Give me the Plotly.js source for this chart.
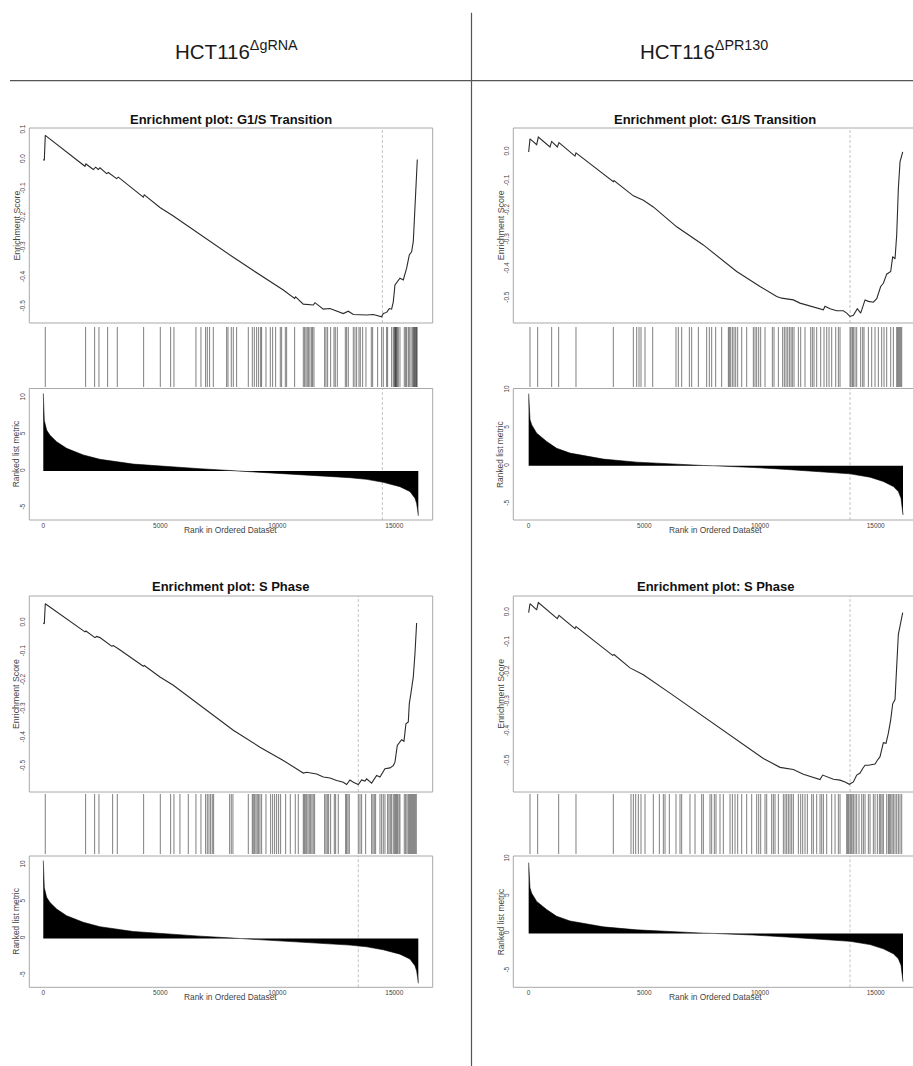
<!DOCTYPE html>
<html>
<head>
<meta charset="utf-8">
<script src="https://cdn.plot.ly/plotly-3.0.1.min.js"></script>
<style>html,body{margin:0;padding:0;background:#fff;}#chart{width:913px;height:1066px;}</style>
</head>
<body>
<div id="chart"></div>
<script>
// ---------------- DATA ----------------
const columnHeaders = ['HCT116<sup>ΔgRNA</sup>', 'HCT116<sup>ΔPR130</sup>'];
const plotTitles = ['Enrichment plot: G1/S Transition', 'Enrichment plot: G1/S Transition',
                    'Enrichment plot: S Phase', 'Enrichment plot: S Phase'];
const esAxisTitle = 'Enrichment Score';
const metricAxisTitle = 'Ranked list metric';
const rankAxisTitle = 'Rank in Ordered Dataset';

const rankTickVals = [0, 5000, 10000, 15000];
const rankTickText = ['0', '5000', '10000', '15000'];
const metricTickVals = [10, 5, 0, -5];
const metricTickText = ['10', '5', '0', '-5'];
const esTickVals = [0.1, 0, -0.1, -0.2, -0.3, -0.4, -0.5];
const esTickText = ['0.1', '0.0', '-0.1', '-0.2', '-0.3', '-0.4', '-0.5'];

// running enrichment score (rank, ES)
const esRank_G1S_gRNA = [0, 43, 85, 1780, 1823, 2137, 2237, 2350, 2422, 2707, 2778, 3134, 3205, 4274, 4316, 4986, 5556, 6695, 8120, 8975, 10256, 10741, 10783, 11111, 11538, 11610, 11966, 12251, 12821, 13034, 13248, 13817, 14102, 14459, 14530, 14672, 14786, 14886, 14957, 15028, 15171, 15242, 15385, 15527, 15641, 15740, 15812, 15883, 15926, 15983];
const esScore_G1S_gRNA = [0, -0.003, 0.082, -0.023, -0.015, -0.034, -0.026, -0.034, -0.028, -0.048, -0.044, -0.065, -0.060, -0.128, -0.120, -0.163, -0.192, -0.255, -0.332, -0.377, -0.443, -0.472, -0.466, -0.491, -0.494, -0.486, -0.508, -0.506, -0.523, -0.515, -0.526, -0.528, -0.526, -0.534, -0.523, -0.519, -0.506, -0.508, -0.483, -0.426, -0.413, -0.403, -0.409, -0.369, -0.324, -0.313, -0.278, -0.176, -0.097, 0.0];

const esRank_G1S_PR130 = [0, 58, 346, 418, 922, 994, 1239, 1311, 2003, 2046, 3660, 3689, 4525, 4957, 5389, 6398, 7551, 8992, 10001, 10721, 10937, 11441, 11729, 12450, 12739, 12811, 13027, 13315, 13603, 13747, 13891, 14035, 14208, 14352, 14540, 14684, 14900, 15044, 15217, 15332, 15476, 15649, 15735, 15836, 15908, 15980, 16052, 16168];
const esScore_G1S_PR130 = [0, 0.045, 0.025, 0.051, 0.017, 0.036, 0.017, 0.032, -0.014, -0.003, -0.102, -0.098, -0.150, -0.165, -0.188, -0.256, -0.318, -0.409, -0.460, -0.494, -0.500, -0.506, -0.517, -0.532, -0.540, -0.528, -0.536, -0.543, -0.543, -0.551, -0.5625, -0.559, -0.536, -0.551, -0.506, -0.511, -0.514, -0.502, -0.460, -0.449, -0.418, -0.409, -0.358, -0.366, -0.284, -0.125, -0.034, 0.0];

const esRank_S_gRNA = [0, 43, 85, 1781, 1823, 2208, 2279, 2422, 2920, 2991, 3205, 4274, 4316, 4986, 5556, 6695, 8120, 9259, 10256, 10969, 11111, 11253, 11538, 11681, 11966, 12251, 12536, 12821, 12963, 13105, 13248, 13461, 13604, 13746, 13817, 14031, 14245, 14387, 14601, 14815, 14957, 15028, 15128, 15313, 15413, 15498, 15598, 15641, 15698, 15812, 15883, 15954];
const esScore_S_gRNA = [0, -0.003, 0.067, -0.031, -0.028, -0.051, -0.047, -0.051, -0.081, -0.079, -0.090, -0.151, -0.148, -0.188, -0.217, -0.287, -0.374, -0.433, -0.479, -0.516, -0.523, -0.520, -0.523, -0.526, -0.537, -0.540, -0.549, -0.555, -0.563, -0.547, -0.555, -0.563, -0.547, -0.551, -0.543, -0.558, -0.531, -0.537, -0.508, -0.505, -0.497, -0.485, -0.427, -0.407, -0.412, -0.351, -0.345, -0.281, -0.252, -0.188, -0.107, 0.0];

const esRank_S_PR130 = [0, 58, 346, 418, 1239, 1311, 2003, 2046, 3631, 3689, 4381, 4957, 6110, 7551, 8992, 10145, 10865, 11441, 11874, 12450, 12594, 12710, 12883, 13171, 13459, 13675, 13863, 14035, 14180, 14324, 14439, 14540, 14684, 14972, 15073, 15188, 15332, 15447, 15548, 15649, 15735, 15836, 15908, 15980, 16168];
const esScore_S_PR130 = [0, 0.030, 0.009, 0.034, -0.020, -0.009, -0.054, -0.047, -0.144, -0.141, -0.186, -0.209, -0.271, -0.350, -0.429, -0.491, -0.521, -0.528, -0.544, -0.559, -0.562, -0.547, -0.553, -0.561, -0.564, -0.570, -0.578, -0.570, -0.547, -0.540, -0.525, -0.514, -0.514, -0.510, -0.497, -0.485, -0.438, -0.440, -0.406, -0.361, -0.307, -0.293, -0.181, -0.073, 0.0];

// gene-set hit positions (rank)
const hits_G1S_gRNA = [85, 1809, 2194, 2379, 2749, 3162, 4288, 5000, 5442, 5584, 6524, 6738, 6937, 7009, 7108, 7265, 7835, 7892, 8034, 8120, 8262, 8761, 8932, 9017, 9117, 9202, 9288, 9330, 9516, 9701, 9801, 9929, 10128, 10185, 10342, 10399, 10741, 11111, 11168, 11225, 11282, 11339, 11396, 11467, 11510, 11567, 12023, 12080, 12151, 12279, 12422, 12479, 12564, 12906, 12963, 13034, 13248, 13319, 13390, 13490, 13547, 13647, 13789, 14017, 14074, 14288, 14459, 14530, 14672, 14715, 14886, 14957, 15000, 15028, 15050, 15071, 15100, 15128, 15171, 15242, 15427, 15484, 15527, 15598, 15641, 15712, 15769, 15812, 15840, 15869, 15897, 15926, 15954, 15975];
const hits_G1S_PR130 = [58, 389, 994, 1297, 2046, 3660, 4525, 4669, 4770, 4856, 5029, 5361, 6369, 6470, 6614, 6946, 7046, 7335, 7695, 7810, 7911, 8084, 8343, 8632, 8675, 8732, 8805, 8876, 8949, 9035, 9208, 9424, 9712, 9784, 9856, 9943, 10029, 10217, 10534, 10606, 10793, 10980, 11052, 11125, 11197, 11269, 11341, 11398, 11470, 11658, 11759, 11946, 12191, 12263, 12335, 12450, 12623, 12767, 12883, 12984, 13099, 13272, 13387, 13459, 13891, 13935, 13992, 14035, 14107, 14179, 14352, 14439, 14496, 14684, 14828, 14972, 15116, 15260, 15361, 15476, 15649, 15764, 15908, 15951, 15995, 16038, 16082, 16125];
const hits_S_gRNA = [85, 1809, 2194, 2379, 2963, 3162, 4288, 5000, 5442, 5584, 5840, 6197, 6524, 6738, 6937, 7009, 7080, 7151, 7222, 7279, 7963, 8034, 8105, 8761, 8932, 8974, 9031, 9088, 9145, 9202, 9259, 9330, 9516, 9715, 9801, 9886, 9972, 10057, 10142, 10356, 10556, 10769, 10897, 11111, 11154, 11197, 11254, 11311, 11368, 11424, 11481, 11538, 11595, 12023, 12080, 12137, 12194, 12279, 12436, 12493, 12607, 12920, 12963, 13020, 13077, 13462, 13533, 13604, 13775, 14031, 14088, 14145, 14202, 14387, 14459, 14530, 14601, 14715, 14772, 14829, 14886, 14957, 15014, 15057, 15100, 15142, 15199, 15242, 15427, 15484, 15541, 15598, 15641, 15684, 15727, 15769, 15812, 15855, 15897, 15940];
const hits_S_PR130 = [58, 389, 1297, 2046, 3660, 4424, 4525, 4626, 4741, 4856, 5029, 5389, 5649, 5822, 5894, 6081, 6369, 6542, 6614, 6974, 7191, 7479, 7551, 7839, 7911, 8026, 8098, 8271, 8415, 8704, 8805, 8920, 9035, 9208, 9424, 9640, 9856, 9943, 10029, 10217, 10289, 10505, 10577, 10649, 10793, 11009, 11081, 11153, 11225, 11297, 11369, 11441, 11658, 11759, 11845, 11946, 12047, 12234, 12306, 12450, 12594, 12666, 12739, 12883, 13099, 13243, 13387, 13459, 13747, 13791, 13834, 13891, 13935, 13978, 14035, 14107, 14179, 14280, 14396, 14468, 14540, 14684, 14756, 14900, 14972, 15073, 15159, 15217, 15275, 15332, 15476, 15548, 15591, 15649, 15706, 15764, 15836, 15908, 15980, 16052, 16125];

// position of the ES extremum (dashed line)
const peakRank = [14490, 13891, 13461, 13891];

// ranked list metric (rank, value)
const metricRank_gRNA = [0, 14, 43, 142, 285, 570, 997, 1709, 2422, 3846, 5271, 6695, 8120, 8400, 9117, 10256, 11681, 13105, 13817, 14530, 15242, 15669, 15883, 15954, 15997, 16026];
const metricValue_gRNA = [10.6, 8.7, 6.9, 5.6, 4.9, 4.0, 3.1, 2.2, 1.6, 0.95, 0.6, 0.32, 0.05, 0.0, -0.12, -0.3, -0.55, -0.9, -1.13, -1.54, -2.13, -2.8, -3.7, -4.4, -5.3, -6.1];
const metricRank_PR130 = [0, 14, 58, 130, 346, 778, 1210, 1787, 3228, 4669, 6110, 7551, 8000, 8415, 9712, 11153, 12594, 13891, 14756, 15332, 15764, 15980, 16096, 16154, 16182];
const metricValue_PR130 = [9.5, 7.8, 6.1, 5.4, 4.3, 3.2, 2.3, 1.67, 0.88, 0.48, 0.22, 0.04, 0.0, -0.04, -0.22, -0.48, -0.75, -1.06, -1.5, -2.07, -2.73, -3.39, -4.27, -5.37, -6.48];

// ---------------- LAYOUT GEOMETRY (pixels) ----------------
const W = 913, H = 1066;
const FONT = 'Liberation Sans, Arial, Helvetica, sans-serif';
const px = v => v / W;
const py = v => 1 - v / H;

const colGeom = [
  {x0: 29.3, x1: 432.7, xEnd: 432.7, r0: -598, r1: 16641, yTitleX: 16},
  {x0: 513.3, x1: 916.7, xEnd: 913, r0: -664, r1: 16613, yTitleX: 500.7}
];
const rowGeom = [
  {title: 120, esTop: 128, esBot: 323, hitTop: 327, hitBot: 387, mTop: 388.5, mBot: 520, xlab: 530},
  {title: 586.7, esTop: 596, esBot: 792, hitTop: 794, hitBot: 854, mTop: 856, mBot: 987.3, xlab: 997}
];

const plots = [
  {col: 0, row: 0, esR: esRank_G1S_gRNA, esS: esScore_G1S_gRNA, hits: hits_G1S_gRNA, mR: metricRank_gRNA, mV: metricValue_gRNA, esRange: [-0.555, 0.107], mRange: [-6.68, 11.27]},
  {col: 1, row: 0, esR: esRank_G1S_PR130, esS: esScore_G1S_PR130, hits: hits_G1S_PR130, mR: metricRank_PR130, mV: metricValue_PR130, esRange: [-0.585, 0.082], mRange: [-7.14, 10.18]},
  {col: 0, row: 1, esR: esRank_S_gRNA, esS: esScore_S_gRNA, hits: hits_S_gRNA, mR: metricRank_gRNA, mV: metricValue_gRNA, esRange: [-0.589, 0.094], mRange: [-6.64, 11.22]},
  {col: 1, row: 1, esR: esRank_S_PR130, esS: esScore_S_PR130, hits: hits_S_PR130, mR: metricRank_PR130, mV: metricValue_PR130, esRange: [-0.604, 0.056], mRange: [-7.23, 10.39]}
];

const traces = [];
const layout = {
  width: W, height: H,
  margin: {l: 0, r: 0, t: 0, b: 0},
  paper_bgcolor: '#ffffff', plot_bgcolor: 'rgba(0,0,0,0)',
  showlegend: false,
  font: {family: FONT, color: '#333'},
  shapes: [], annotations: []
};
const axName = (p, n) => n === 1 ? p + 'axis' : p + 'axis' + n;
const axRef = (p, n) => n === 1 ? p : p + n;

const tickFont = {family: FONT, size: 6.5, color: '#444'};
const BOXCOL = '#a8a8a8';

plots.forEach((pl, i) => {
  const c = colGeom[pl.col], r = rowGeom[pl.row];
  const xDom = [px(c.x0), Math.min(1, px(c.xEnd))];
  const xRange = [c.r0, c.r1];
  const nES = 3 * i + 1, nHit = 3 * i + 2, nM = 3 * i + 3;
  const baseX = {domain: xDom, range: xRange, showgrid: false, zeroline: false, showline: false, ticks: '', fixedrange: true};
  // ES panel
  layout[axName('x', nES)] = Object.assign({}, baseX, {anchor: axRef('y', nES), showticklabels: false});
  layout[axName('y', nES)] = {domain: [py(r.esBot), py(r.esTop)], range: pl.esRange, anchor: axRef('x', nES),
    showgrid: false, zeroline: false, showline: false, ticks: '', tickvals: esTickVals, ticktext: esTickText,
    tickangle: -90, tickfont: tickFont, ticklabelstandoff: 2};
  // hits panel
  layout[axName('x', nHit)] = Object.assign({}, baseX, {anchor: axRef('y', nHit), showticklabels: false});
  layout[axName('y', nHit)] = {domain: [py(r.hitBot), py(r.hitTop)], range: [0, 1], anchor: axRef('x', nHit),
    showgrid: false, zeroline: false, showline: false, showticklabels: false, ticks: ''};
  // metric panel
  layout[axName('x', nM)] = Object.assign({}, baseX, {anchor: axRef('y', nM), showticklabels: true,
    tickvals: rankTickVals, ticktext: rankTickText, tickfont: tickFont, ticklabelstandoff: 0});
  layout[axName('y', nM)] = {domain: [py(r.mBot), py(r.mTop)], range: pl.mRange, anchor: axRef('x', nM),
    showgrid: false, zeroline: false, showline: false, ticks: '', tickvals: metricTickVals, ticktext: metricTickText,
    tickangle: -90, tickfont: tickFont, ticklabelstandoff: 2};

  // traces
  traces.push({type: 'scatter', mode: 'lines', x: pl.mR, y: pl.mV, xaxis: axRef('x', nM), yaxis: axRef('y', nM),
    fill: 'tozeroy', fillcolor: '#000000', line: {color: '#000000', width: 0.6}, hoverinfo: 'skip'});
  const hx = [], hy = [];
  pl.hits.forEach(h => { hx.push(h, h, null); hy.push(0, 1, null); });
  traces.push({type: 'scatter', mode: 'lines', x: hx, y: hy, xaxis: axRef('x', nHit), yaxis: axRef('y', nHit),
    line: {color: 'rgba(0,0,0,0.5)', width: 1}, hoverinfo: 'skip'});
  traces.push({type: 'scatter', mode: 'lines', x: pl.esR, y: pl.esS, xaxis: axRef('x', nES), yaxis: axRef('y', nES),
    line: {color: '#2b2b2b', width: 1.1}, hoverinfo: 'skip'});

  // dashed peak lines
  [nES, nM].forEach(n => {
    layout.shapes.push({type: 'line', xref: axRef('x', n), yref: axRef('y', n) + ' domain',
      x0: peakRank[i], x1: peakRank[i], y0: 0, y1: 1, line: {color: '#c4c4c4', width: 1, dash: '3px,2px'}, layer: 'below'});
  });
  // panel boxes
  [[r.esTop, r.esBot], [r.mTop, r.mBot]].forEach(([t, b]) => {
    layout.shapes.push({type: 'rect', xref: 'paper', yref: 'paper', x0: px(c.x0), x1: px(c.x1), y0: py(b), y1: py(t),
      line: {color: BOXCOL, width: 1}, fillcolor: 'rgba(0,0,0,0)'});
  });

  const cx = (c.x0 + c.x1) / 2;
  layout.annotations.push({text: '<b>' + plotTitles[i] + '</b>', xref: 'paper', yref: 'paper', x: px(cx), y: py(r.title),
    xanchor: 'center', yanchor: 'middle', showarrow: false, font: {family: FONT, size: 13, color: '#111'}});
  layout.annotations.push({text: esAxisTitle, xref: 'paper', yref: 'paper', x: px(c.yTitleX), y: py((r.esTop + r.esBot) / 2),
    xanchor: 'center', yanchor: 'middle', textangle: -90, showarrow: false, font: {family: FONT, size: 8.8, color: '#444'}});
  layout.annotations.push({text: metricAxisTitle, xref: 'paper', yref: 'paper', x: px(c.yTitleX), y: py((r.mTop + r.mBot) / 2),
    xanchor: 'center', yanchor: 'middle', textangle: -90, showarrow: false, font: {family: FONT, size: 8.4, color: '#444'}});
  layout.annotations.push({text: rankAxisTitle, xref: 'paper', yref: 'paper', x: px(cx), y: py(r.xlab),
    xanchor: 'center', yanchor: 'middle', showarrow: false, font: {family: FONT, size: 8.4, color: '#444'}});
});

// column headers and divider lines
const headerX = [236.7, 703.7];
columnHeaders.forEach((t, k) => {
  layout.annotations.push({text: t, xref: 'paper', yref: 'paper', x: px(headerX[k]), y: py(50.5),
    xanchor: 'center', yanchor: 'middle', showarrow: false, font: {family: FONT, size: 20.5, color: '#1a1a1a'}});
});
layout.shapes.push({type: 'line', xref: 'paper', yref: 'paper', x0: px(10), x1: 1, y0: py(80.7), y1: py(80.7),
  line: {color: '#555', width: 1.2}});
layout.shapes.push({type: 'line', xref: 'paper', yref: 'paper', x0: px(471.5), x1: px(471.5), y0: py(12.7), y1: 0,
  line: {color: '#555', width: 1.2}});

Plotly.newPlot('chart', traces, layout, {staticPlot: true, displayModeBar: false});
</script>
</body>
</html>
